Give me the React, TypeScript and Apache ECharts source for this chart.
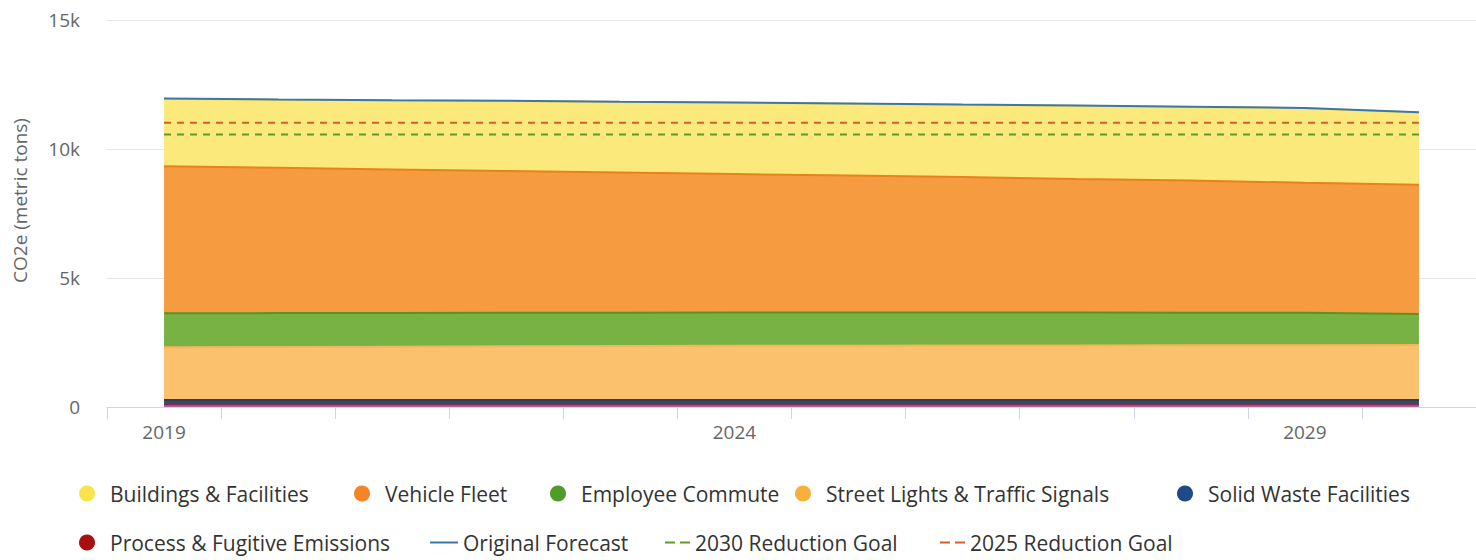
import React, { useEffect, useRef } from "react";
import * as echarts from "echarts";

const years = ["2019", "2020", "2021", "2022", "2023", "2024", "2025", "2026", "2027", "2028", "2029", "2030"];
const yTickValues = [0, 5000, 10000, 15000];

// stacked from bottom to top
const processFugitive = [110, 110, 110, 110, 110, 110, 110, 110, 110, 110, 110, 110];
const solidWaste = [160, 160, 160, 160, 160, 160, 160, 160, 160, 160, 160, 160];
const streetLights = [2050, 2060, 2070, 2080, 2090, 2100, 2105, 2110, 2115, 2120, 2125, 2130];
const employeeCommute = [1310, 1310, 1305, 1300, 1295, 1290, 1285, 1280, 1275, 1265, 1255, 1200];
const vehicleFleet = [5700, 5630, 5565, 5500, 5435, 5370, 5310, 5250, 5180, 5125, 5040, 5010];
const buildings = [2620, 2640, 2670, 2710, 2730, 2760, 2780, 2800, 2840, 2850, 2890, 2800];

const originalForecast = [11960, 11920, 11890, 11870, 11830, 11800, 11760, 11720, 11690, 11640, 11590, 11420];
const goal2030 = [10560, 10560, 10560, 10560, 10560, 10560, 10560, 10560, 10560, 10560, 10560, 10560];
const goal2025 = [11020, 11020, 11020, 11020, 11020, 11020, 11020, 11020, 11020, 11020, 11020, 11020];

const FONT = "Open Sans";
const SOLID_ICON = "path://M0,0H28V2H0Z";
const DASH_ICON = "path://M0,0H10V2H0Z M15,0H25V2H15Z";

export default function App() {
  const ref = useRef<HTMLDivElement>(null);

  useEffect(() => {
    if (!ref.current) return;
    const chart = echarts.init(ref.current, null, { renderer: "svg" });

    const area = (name: string, data: number[], marker: string, edge: string, fill: string) => ({
      name,
      type: "line",
      stack: "total",
      data,
      symbol: "none",
      showSymbol: false,
      itemStyle: { color: marker },
      lineStyle: { color: edge, width: 2 },
      areaStyle: { color: fill, opacity: 1 },
      emphasis: { disabled: true },
    });

    const line = (name: string, data: number[], color: string, dashed: boolean) => ({
      name,
      type: "line",
      data,
      symbol: "none",
      showSymbol: false,
      z: 5,
      itemStyle: { color },
      lineStyle: { color, width: 2, type: dashed ? [7, 6] : "solid" },
      emphasis: { disabled: true },
    });

    const textStyle = { fontFamily: FONT, fontSize: 21, fontWeight: 500, color: "#333" };
    const circleLegend = (name: string, left: number, top: number) => ({
      data: [name],
      left,
      top,
      padding: 0,
      icon: "circle",
      itemWidth: 36,
      itemHeight: 16,
      textStyle,
    });
    const lineLegend = (name: string, icon: string, width: number, left: number, top: number) => ({
      data: [{ name, icon }],
      left,
      top,
      padding: 0,
      symbolKeepAspect: true,
      itemWidth: width,
      itemHeight: 16,
      textStyle,
    });

    const row1 = 483;
    const row2 = 532;

    chart.setOption({
      animation: false,
      backgroundColor: "#ffffff",
      grid: { left: 107, right: -11, top: 20, bottom: 153, containLabel: false },
      legend: [
        circleLegend("Buildings & Facilities", 79, row1),
        circleLegend("Vehicle Fleet", 354, row1),
        circleLegend("Employee Commute", 550, row1),
        circleLegend("Street Lights & Traffic Signals", 795, row1),
        circleLegend("Solid Waste Facilities", 1177, row1),
        circleLegend("Process & Fugitive Emissions", 79, row2),
        lineLegend("Original Forecast", SOLID_ICON, 28, 430, row2),
        lineLegend("2030 Reduction Goal", DASH_ICON, 25, 665, row2),
        lineLegend("2025 Reduction Goal", DASH_ICON, 25, 940, row2),
      ],
      xAxis: {
        type: "category",
        data: years,
        boundaryGap: true,
        axisLine: { show: true, lineStyle: { color: "#ccd6eb", width: 1 } },
        axisTick: { show: true, interval: 0, length: 12, lineStyle: { color: "#ccd6eb" } },
        axisLabel: {
          interval: 4,
          color: "#666",
          fontFamily: FONT,
          fontSize: 19,
          margin: 15,
        },
        splitLine: { show: false },
      },
      yAxis: {
        type: "value",
        min: yTickValues[0],
        max: yTickValues[yTickValues.length - 1],
        interval: 5000,
        name: "CO2e (metric tons)",
        nameLocation: "middle",
        nameRotate: 90,
        nameGap: 78,
        nameTextStyle: { color: "#666", fontFamily: FONT, fontSize: 19, padding: [0, 0, 0, 26] },
        axisLine: { show: false },
        axisTick: { show: false },
        axisLabel: {
          color: "#666",
          fontFamily: FONT,
          fontSize: 19,
          margin: 27,
          formatter: (v: number) => (v === 0 ? "0" : v / 1000 + "k"),
        },
        splitLine: { show: true, lineStyle: { color: "#e6e6e6", width: 1 } },
      },
      series: [
        area("Process & Fugitive Emissions", processFugitive, "#a8100f", "#7d2a5c", "#b86088"),
        area("Solid Waste Facilities", solidWaste, "#1f4a8a", "#2c3c5c", "#3c4a68"),
        area("Street Lights & Traffic Signals", streetLights, "#f8b03c", "#f3b65a", "#fbc16c"),
        area("Employee Commute", employeeCommute, "#4f9d26", "#5a9520", "#78b144"),
        area("Vehicle Fleet", vehicleFleet, "#f58426", "#e8821e", "#f69b40"),
        area("Buildings & Facilities", buildings, "#f9e44c", "#f5dc50", "#fce97c"),
        line("Original Forecast", originalForecast, "#3f76a8", false),
        line("2030 Reduction Goal", goal2030, "#5f9a2a", true),
        line("2025 Reduction Goal", goal2025, "#d0602e", true),
      ],
    });

    return () => chart.dispose();
  }, []);

  return (
    <div
      ref={ref}
      style={{ position: "fixed", left: 0, top: 0, width: 1476, height: 560, background: "#fff" }}
    />
  );
}
